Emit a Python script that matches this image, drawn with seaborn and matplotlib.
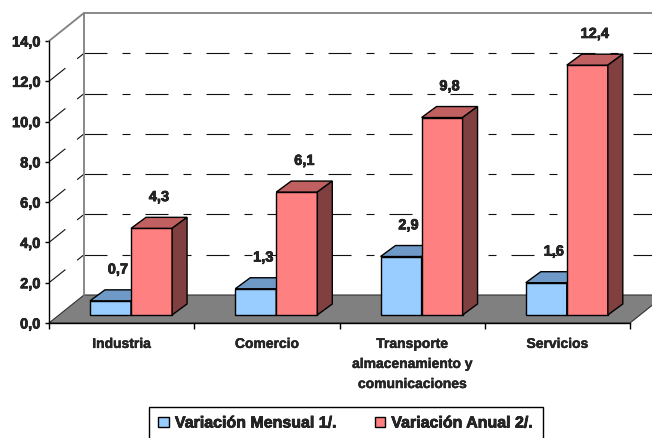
import matplotlib
matplotlib.use('Agg')
import matplotlib.pyplot as plt
from matplotlib import font_manager
import matplotlib.patheffects as pe
from matplotlib.patches import Polygon, Patch
import numpy as np
import pandas as pd
import seaborn as sns

sectores = ['Industria', 'Comercio', 'Transporte\nalmacenamiento y\ncomunicaciones', 'Servicios']
var_mensual = [0.7, 1.3, 2.9, 1.6]
var_anual = [4.3, 6.1, 9.8, 12.4]
series = ['Variación Mensual 1/.', 'Variación Anual 2/.']
y_ticks = [0, 2, 4, 6, 8, 10, 12, 14]

df = pd.DataFrame({
    'sector': sectores * 2,
    'valor': var_mensual + var_anual,
    'serie': [series[0]] * 4 + [series[1]] * 4,
})

sns.set_style('white')

# pick an Arial-like family that really has a bold face
fam = 'DejaVu Sans'
for cand in ['Liberation Sans', 'Roboto', 'Inter', 'Noto Sans', 'Open Sans', 'Lato']:
    try:
        f = font_manager.findfont(font_manager.FontProperties(family=cand, weight='bold'),
                                  fallback_to_default=False)
    except Exception:
        continue
    if 'bold' in f.lower():
        fam = cand
        break
plt.rcParams['font.family'] = [fam, 'DejaVu Sans']
plt.rcParams['font.weight'] = 'bold'

# heavier text, like the old excel rendering
heavy = [pe.withStroke(linewidth=0.5, foreground='black')]

front = ['#99CCFF', '#FF8080']
top = ['#6F9AC8', '#C06060']
side = ['#4D7399', '#804040']

# fake 3d: wall depth, bar front offset, bar depth (x in categories, y in values)
DX, DY = 0.241, 1.39
BX0, BY0 = 0.065, 0.40
BX, BY = 0.103, 0.546

fig = plt.figure(figsize=(6.52, 4.38), dpi=100)
ax = fig.add_axes([49 / 652, 115 / 438, 581 / 652, 282 / 438])

sns.barplot(data=df, x='sector', y='valor', hue='serie', palette=front,
            width=0.565, edgecolor='black', linewidth=1, saturation=1,
            legend=False, ax=ax)

ax.set_xlim(-0.5, 3.5)
ax.set_ylim(0, 14)

# floor
floor = Polygon([(-0.5, 0), (3.5, 0), (3.5 + DX, DY), (-0.5 + DX, DY)],
                closed=True, facecolor='#808080', edgecolor='#333333',
                lw=0.8, clip_on=False, zorder=0.5)
bars = list(ax.patches)
ax.add_patch(floor)

# walls
def dash(px, lw):
    return [p * 72 / 100 / lw for p in px]

gl = 0.8
for v in y_ticks[1:-1]:
    ax.plot([-0.5, -0.5 + DX], [v, v + DY], color='#111111', lw=gl,
            dashes=dash([21, 15, 8, 15], gl), clip_on=False, zorder=1)
    ax.plot([-0.5 + DX, 3.5 + DX], [v + DY, v + DY], color='#111111', lw=gl,
            dashes=dash([23, 15, 8, 15], gl), clip_on=False, zorder=1)
ax.plot([-0.5, -0.5 + DX, 3.5 + DX], [14, 14 + DY, 14 + DY],
        color='#808080', lw=1.3, clip_on=False, zorder=1)
ax.plot([-0.5 + DX, -0.5 + DX], [DY, 14 + DY],
        color='#808080', lw=1.3, clip_on=False, zorder=1)

# bars: shift into the floor and add top / side faces
for p in bars:
    w = p.get_width()
    h = p.get_height()
    xc = p.get_x() + w / 2
    k = 0 if xc < round(xc) else 1
    x0 = p.get_x() + BX0
    p.set_x(x0)
    p.set_y(BY0)
    p.set_zorder(3 + k)
    y1 = BY0 + h
    ax.add_patch(Polygon([(x0, y1), (x0 + w, y1), (x0 + w + BX, y1 + BY), (x0 + BX, y1 + BY)],
                         closed=True, facecolor=top[k], edgecolor='black', lw=1,
                         clip_on=False, zorder=3 + k))
    ax.add_patch(Polygon([(x0 + w, BY0), (x0 + w + BX, BY0 + BY), (x0 + w + BX, y1 + BY), (x0 + w, y1)],
                         closed=True, facecolor=side[k], edgecolor='black', lw=1,
                         clip_on=False, zorder=3 + k))
    ax.text(x0 + w / 2 + BX / 2, y1 + 1.55, f'{h:.1f}'.replace('.', ','),
            ha='center', va='center', fontsize=10.5, fontweight='bold', zorder=6,
            path_effects=heavy)

# axes
for s in ['top', 'right']:
    ax.spines[s].set_visible(False)
for s in ['left', 'bottom']:
    ax.spines[s].set_color('black')
    ax.spines[s].set_linewidth(1)
    ax.spines[s].set_zorder(2)

ax.set_yticks(y_ticks, [f'{v:.1f}'.replace('.', ',') for v in y_ticks])
ax.set_xticks(range(len(sectores)), sectores)
ax.set_xticks(np.arange(-0.5, len(sectores)), minor=True)
ax.tick_params(axis='x', which='major', bottom=False, length=0, pad=10)
ax.tick_params(axis='x', which='minor', bottom=True, length=4, width=1, color='black', direction='out')
ax.tick_params(axis='y', left=True, length=3, width=1, color='black', direction='out', pad=3)
for lbl in ax.get_xticklabels():
    lbl.set_fontsize(10)
    lbl.set_fontweight('bold')
    lbl.set_linespacing(1.55)
    lbl.set_verticalalignment('top')
    lbl.set_path_effects([pe.withStroke(linewidth=0.3, foreground='black')])
for lbl in ax.get_yticklabels():
    lbl.set_fontsize(10.5)
    lbl.set_fontweight('bold')
    lbl.set_path_effects(heavy)
ax.set_xlabel('')
ax.set_ylabel('')

handles = [Patch(facecolor=front[i], edgecolor='black', lw=1) for i in range(2)]
leg = fig.legend(handles, series, loc='center', bbox_to_anchor=(346 / 652, 1 - 423 / 438),
                 ncol=2, frameon=True, fancybox=False, edgecolor='black', framealpha=1,
                 prop={'size': 11.5, 'weight': 'bold'}, handlelength=0.65, handleheight=0.65,
                 handletextpad=0.4, columnspacing=2.3, borderpad=0.55)
leg.get_frame().set_linewidth(1)
for t in leg.get_texts():
    t.set_path_effects(heavy)

fig.savefig('out.png', dpi=100)
plt.close(fig)
